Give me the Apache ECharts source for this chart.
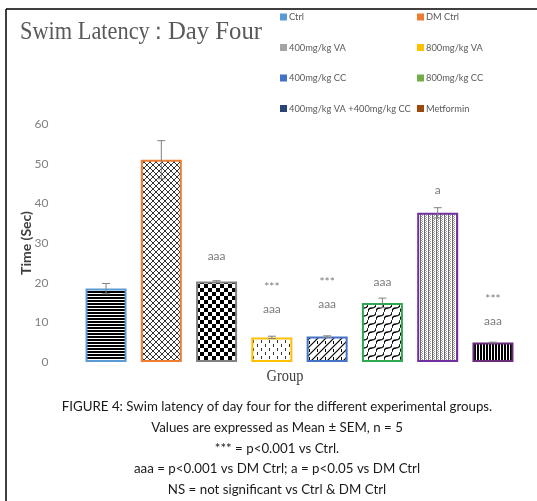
<!DOCTYPE html>
<html><head><meta charset="utf-8">
<script src="https://cdn.jsdelivr.net/npm/echarts@6/dist/echarts.min.js"></script>
<style>html,body{margin:0;padding:0;background:#fff}#c{width:537px;height:501px}</style>
</head><body><div id="c"></div>
<script>
// ---- data ----
const categories = ['Ctrl','DM Ctrl','400mg/kg VA','800mg/kg VA','400mg/kg CC','800mg/kg CC','400mg/kg VA +400mg/kg CC','Metformin'];
const means = [18.5, 51.0, 20.3, 6.2, 6.4, 14.9, 37.6, 4.9];
const sems  = [1.3, 4.8, 0.2, 0.3, 0.2, 1.2, 1.3, 0.1];
const yTicks = [0, 10, 20, 30, 40, 50, 60];
const annotCategory = [2, 3, 3, 4, 4, 5, 6, 7, 7];
const annotValue    = [26.8, 19.0, 13.3, 20.1, 14.6, 20.1, 43.4, 15.8, 10.3];
const annotText     = ['aaa', '***', 'aaa', '***', 'aaa', 'aaa', 'a', '***', 'aaa'];
const leftLegend  = [0, 2, 4, 6];
const rightLegend = [1, 3, 5, 7];
const titleMain = 'Swim Latency';
const titleColon = '：';
const titleSub = 'Day Four';
const xName = 'Group';
const yName = 'Time (Sec)';
const captionLines = [
  'FIGURE 4: Swim latency of day four for the different experimental groups.',
  'Values are expressed as Mean ± SEM, n = 5',
  '*** = p<0.001 vs Ctrl.',
  'aaa = p<0.001 vs DM Ctrl; a = p<0.05 vs DM Ctrl',
  'NS = not significant vs Ctrl & DM Ctrl'
];

// ---- styles ----
const legendColors = ['#5B9BD5','#ED7D31','#A5A5A5','#FFC000','#4472C4','#70AD47','#264478','#9E480E'];
const borderColors = ['#5B9BD5','#ED7D31','#808080','#FFC000','#4472C4','#2FA84F','#7030A0','#6B2A7A'];
const SANS = "Lato, 'Open Sans', sans-serif";
const SERIF = "'Liberation Serif', 'DejaVu Serif', serif";

function pat(w, h, draw) {
  const c = document.createElement('canvas');
  c.width = w; c.height = h;
  const g = c.getContext('2d');
  g.fillStyle = '#fff'; g.fillRect(0, 0, w, h);
  g.fillStyle = '#000'; g.strokeStyle = '#000';
  draw(g);
  return { image: c, repeat: 'repeat' };
}
const patterns = [
  pat(4, 3, g => g.fillRect(0, 0, 4, 2)),
  pat(6, 6, g => { g.strokeStyle = '#333'; g.lineWidth = 1; g.beginPath(); g.moveTo(0,0); g.lineTo(6,6); g.moveTo(6,0); g.lineTo(0,6); g.stroke(); }),
  pat(8, 8, g => { g.fillRect(0,0,4,4); g.fillRect(4,4,4,4); }),
  pat(8, 8, g => { g.fillStyle = '#333'; g.fillRect(1,0,1,3); g.fillRect(5,4,1,3); }),
  pat(8, 8, g => { g.lineWidth = 1.2; g.beginPath(); g.moveTo(0,8); g.lineTo(8,0); g.moveTo(-4,4); g.lineTo(4,-4); g.moveTo(4,12); g.lineTo(12,4); g.stroke(); g.fillRect(5,5,1,3); }),
  pat(8, 8, g => { g.lineWidth = 1.3; g.beginPath(); g.moveTo(0,8); g.quadraticCurveTo(0,4,4,4); g.quadraticCurveTo(8,4,8,0); g.stroke(); }),
  pat(4, 2, g => { g.fillStyle = '#6a6a6a'; g.fillRect(0,0,1,2); g.fillStyle = '#999'; g.fillRect(2,1,1,1); g.fillRect(1,0,1,1); }),
  pat(3, 1, g => g.fillRect(0, 0, 2, 1))
];

const barSeries = categories.map((name, i) => ({
  name, type: 'bar', barWidth: 41, barGap: '-100%',
  data: means.map((m, j) => j === i ? m : '-'),
  itemStyle: { color: patterns[i], borderColor: borderColors[i], borderWidth: 2 },
  silent: true, z: 2
}));

function legendCfg(idx, left) {
  return {
    data: idx.map(i => ({ name: categories[i], itemStyle: { color: legendColors[i], borderWidth: 0 } })),
    orient: 'vertical', left, top: 10, padding: 0, icon: 'rect', itemWidth: 7, itemHeight: 7,
    itemGap: 16.5, selectedMode: false,
    textStyle: { color: '#595959', fontSize: 9.3, fontFamily: SANS, lineHeight: 14, padding: [0,0,0,-3] }
  };
}

const chart = echarts.init(document.getElementById('c'), null, { renderer: 'canvas' });
chart.setOption({
  animation: false,
  backgroundColor: '#fff',
  grid: { left: 78.4, right: 16.4, top: 124, bottom: 139 },
  legend: [legendCfg(leftLegend, 280), legendCfg(rightLegend, 417)],
  xAxis: { type: 'category', data: categories, axisLine: { show: false }, axisTick: { show: false }, axisLabel: { show: false } },
  yAxis: {
    type: 'value', min: yTicks[0], max: yTicks[yTicks.length - 1], interval: 10,
    axisLine: { show: false }, axisTick: { show: false }, splitLine: { show: false },
    axisLabel: { color: '#808080', fontSize: 12, fontFamily: SANS, margin: 30 },
    name: yName, nameLocation: 'middle', nameGap: 45, nameMoveOverlap: false,
    nameTextStyle: { color: '#404040', fontSize: 14, fontWeight: 'bold', fontFamily: SANS }
  },
  series: [
    ...barSeries,
    {
      type: 'custom', silent: true, z: 5,
      data: means.map((m, i) => [i, m - sems[i], m + sems[i]]),
      renderItem: (params, api) => {
        const hi = api.coord([api.value(0), api.value(2)]);
        const lo = api.coord([api.value(0), api.value(1)]);
        const st = { stroke: '#808080', lineWidth: 1 };
        return { type: 'group', children: [
          { type: 'line', shape: { x1: hi[0], y1: hi[1], x2: lo[0], y2: lo[1] }, style: st },
          { type: 'line', shape: { x1: hi[0]-4, y1: hi[1], x2: hi[0]+4, y2: hi[1] }, style: st },
          { type: 'line', shape: { x1: lo[0]-4, y1: lo[1], x2: lo[0]+4, y2: lo[1] }, style: st }
        ]};
      }
    },
    {
      type: 'scatter', symbolSize: 0, silent: true, z: 6,
      data: annotCategory.map((c, i) => ({ value: [c, annotValue[i]], label: { formatter: annotText[i] } })),
      label: { show: true, position: 'inside', color: '#595959', fontSize: 12, fontFamily: SANS }
    }
  ],
  graphic: [
    { type: 'line', shape: { x1: 6, y1: 9, x2: 537, y2: 9 }, style: { stroke: '#000', lineWidth: 1.5 } },
    { type: 'line', shape: { x1: 6, y1: 9, x2: 6, y2: 501 }, style: { stroke: '#000', lineWidth: 1.5 } },
    { type: 'text', x: 20, y: 45, scaleX: 0.86, style: { x: 0, y: 0, text: titleMain, font: '26px ' + SERIF, fill: '#595959', textVerticalAlign: 'bottom' } },
    { type: 'text', x: 158, y: 45, scaleX: 0.86, style: { x: 0, y: 0, text: titleColon, font: '24px ' + SERIF, fill: '#595959', textAlign: 'center', textVerticalAlign: 'bottom' } },
    { type: 'text', x: 168, y: 45, scaleX: 0.95, style: { x: 0, y: 0, text: titleSub, font: '26px ' + SERIF, fill: '#595959', textVerticalAlign: 'bottom' } },
    { type: 'text', x: 285, y: 377, scaleX: 0.9, style: { x: 0, y: 0, text: xName, font: '16px ' + SERIF, fill: '#404040', textAlign: 'center', textVerticalAlign: 'middle' } },
    ...captionLines.map((t, i) => ({ type: 'text', x: 277, y: 407 + i * 20.7, style: { x: 0, y: 0, text: t, font: '13.3px ' + SANS, fill: '#1a1a1a', textAlign: 'center', textVerticalAlign: 'middle' } }))
  ]
});
</script>
</body></html>
